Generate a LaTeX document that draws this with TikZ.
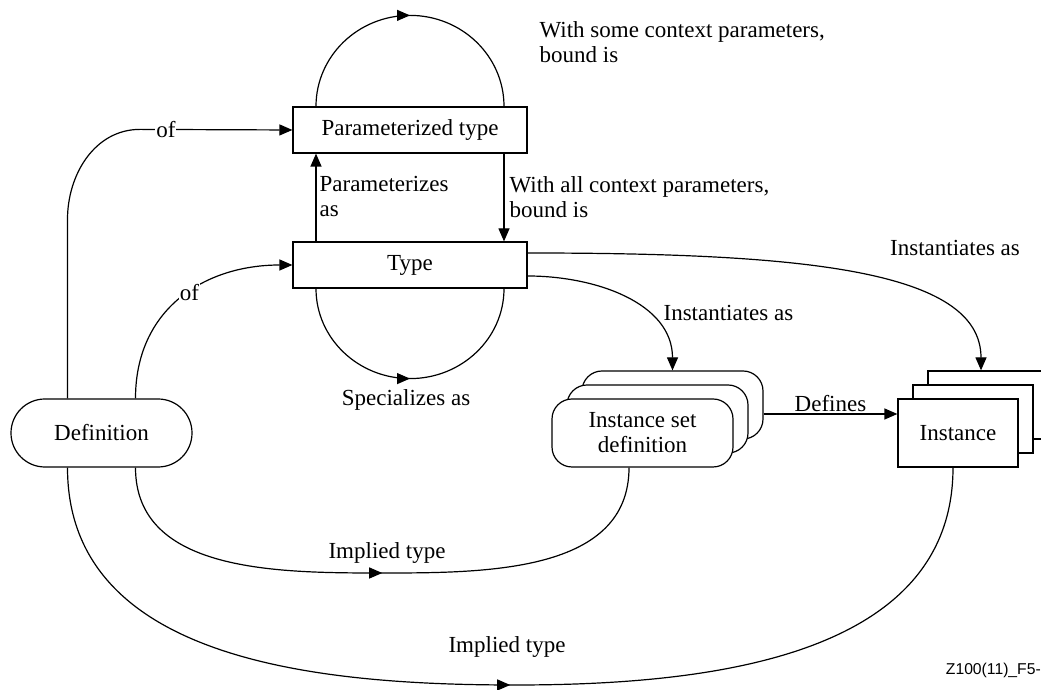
\documentclass[tikz,border=0pt]{standalone}
\usepackage{fontspec}
\setmainfont{Liberation Serif}
\newfontfamily\tagfont{Liberation Sans}
\usetikzlibrary{positioning,arrows.meta,decorations.markings}

\begin{document}
\begin{tikzpicture}[x=1pt,y=1pt,line width=1.2pt,
	font=\fontsize{23}{25}\selectfont,
	tbox/.style={draw,rectangle,minimum width=234pt,minimum height=46pt,inner sep=0pt},
	pill/.style={draw,rounded corners=33.9pt,minimum width=181pt,minimum height=68pt,inner sep=0pt},
	setbox/.style={draw,fill=white,rounded corners=20pt,minimum width=181pt,minimum height=68pt,inner sep=0pt,align=center},
	instbox/.style={draw,fill=white,minimum width=120pt,minimum height=68pt,inner sep=0pt},
	conn/.style={-{Triangle[length=13pt,width=11pt]}},
	midarrow/.style={postaction={decorate},decoration={markings,mark=at position 0.5 with {\arrow{Triangle[length=13pt,width=11pt]}}}},
	lbl/.style={inner sep=1pt,align=left}]
	\clip (0,0) rectangle (1041,690);
	\node[tbox] (P) at (410,560) {Parameterized type};
	\node[tbox] (T) at (410,425) {Type};
	\node[pill] (D) at (101.5,257) {Definition};
	\node[setbox] (S3) at (672.5,285) {};
	\node[setbox] (S2) at (657.5,271) {};
	\node[setbox] (S1) at (642.5,257) {Instance set\\definition};
	\node[instbox] (I3) at (988,285) {};
	\node[instbox] (I2) at (973,271) {};
	\node[instbox] (I1) at (958,257) {Instance};
	\node[lbl,anchor=west] (lpar) at (318,493) {Parameterizes\\as};
	\node[lbl,anchor=west] (lall) at (508,493) {With all context parameters,\\bound is};
	\node[lbl,anchor=west] (lsome) at (538,648) {With some context parameters,\\bound is};
	\node[lbl] (lspec) at (406,290) {Specializes as};
	\node[lbl,anchor=west] (linsta) at (662,377) {Instantiates as};
	\node[lbl] (linstb) at (955,442) {Instantiates as};
	\node[lbl] (limpa) at (387,137) {Implied type};
	\node[lbl] (limpb) at (507,43) {Implied type};
	\node[anchor=base west,font=\tagfont\fontsize{15.7}{17}\selectfont] (tag) at (942,15) {Z100(11)\_F5-1};
	\draw[conn] ([xshift=-34pt]D.north) -- ++(0,179) to[out=90,in=180] ++(72.5,90) -- node[lbl,fill=white,pos=0.17] (lofa) {of} (P.west);
	\draw[conn] ([xshift=34pt]D.north) to[out=90,in=180,looseness=1.1] node[lbl,fill=white,pos=0.55] (lofb) {of} (T.west);
	\draw[conn] ([xshift=-94pt]T.north) -- ([xshift=-94pt]P.south);
	\draw[conn] ([xshift=94pt]P.south) -- ([xshift=94pt]T.north);
	\draw[midarrow] ([xshift=-94pt]P.north) arc[start angle=180,end angle=0,x radius=94,y radius=91];
	\draw[midarrow] ([xshift=-94pt]T.south) arc[start angle=180,end angle=360,x radius=94,y radius=90];
	\draw[conn] ([yshift=-11pt]T.east) to[out=0,in=90] (S3.north);
	\draw[conn] ([yshift=12pt]T.east) .. controls +(273,0) and +(0,101) .. ([xshift=-7pt]I3.north);
	\draw[conn] ([yshift=-9pt]S3.east) -- node[lbl,above=1pt] (ldef) {Defines} ([yshift=19pt]I1.west);
	\draw[midarrow] ([xshift=34pt]D.south) to[out=-90,in=180] (382.5,117) to[out=0,in=-90] ([xshift=-13.5pt]S1.south);
	\draw[midarrow] ([xshift=-34pt]D.south) to[out=-90,in=180] (515,5) to[out=0,in=-90] ([xshift=-5pt]I1.south);
\end{tikzpicture}
\end{document}
